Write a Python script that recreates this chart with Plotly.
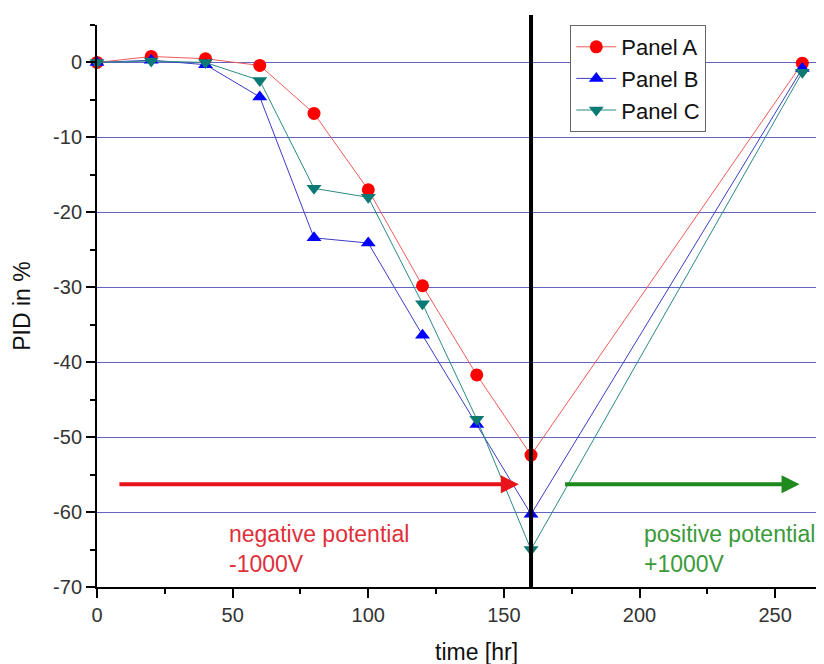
import plotly.graph_objects as go

time_hr = [0, 20, 40, 60, 80, 100, 120, 140, 160, 260]
panel_a = [0, 0.8, 0.5, -0.4, -6.8, -17.0, -29.8, -41.7, -52.4, -0.1]
panel_b = [0, 0.3, -0.3, -4.6, -23.4, -24.1, -36.4, -48.3, -60.3, -0.8]
panel_c = [0, 0.2, 0.0, -2.4, -16.8, -18.0, -32.2, -47.6, -65.0, -1.3]

series_names = ["Panel A", "Panel B", "Panel C"]
line_colors = ["#f05a5a", "#3c3cc8", "#2a8a86"]
marker_colors = ["#ff0000", "#0000ff", "#0c7a74"]
marker_symbols = ["circle", "triangle-up", "triangle-down"]

x_ticks = [0, 50, 100, 150, 200, 250]
y_ticks = [0, -10, -20, -30, -40, -50, -60, -70]
y_tick_text = ["0", "-10", "-20", "-30", "-40", "-50", "-60", "-70"]

switch_time = 160
arrow_y = -56.3
neg_arrow = [7.7, 155.5]
pos_arrow = [172, 259]

fig = go.Figure()
for name, ys, lc, mc, sym in zip(series_names, [panel_a, panel_b, panel_c],
                                 line_colors, marker_colors, marker_symbols):
    fig.add_trace(go.Scatter(
        x=time_hr, y=ys, name=name, mode="lines+markers",
        line=dict(color=lc, width=1),
        marker=dict(color=mc, symbol=sym, size=13),
        cliponaxis=False,
    ))

font_family = "Liberation Sans, Arial, sans-serif"

# page body has an 8px margin: figure is sized/placed to compensate
fig.update_layout(
    width=816, height=656,
    margin=dict(l=89, r=0, t=17, b=77, autoexpand=False),
    paper_bgcolor="white", plot_bgcolor="white",
    font=dict(family=font_family, size=20, color="#333333"),
    showlegend=True,
    legend=dict(
        x=0.651, y=1.0, xanchor="left", yanchor="top",
        bgcolor="white", bordercolor="#666666", borderwidth=1,
        font=dict(size=22, color="#111111"),
        itemwidth=40, tracegroupgap=0,
    ),
    xaxis=dict(
        range=[0, 268], tickvals=x_ticks, ticks="outside", ticklen=9, tickwidth=2,
        tickcolor="black", showline=True, linecolor="black", linewidth=2,
        showgrid=False, zeroline=False,
        minor=dict(dtick=25, tick0=0, ticks="outside", ticklen=5, tickwidth=2, tickcolor="black", showgrid=False),
        tickfont=dict(size=20, color="#333333"),
    ),
    yaxis=dict(
        range=[-70, 5], tickvals=y_ticks, ticktext=y_tick_text, ticks="outside", ticklen=9, tickwidth=2,
        tickcolor="black", showline=True, linecolor="black", linewidth=2,
        showgrid=True, gridcolor="#6464c4", gridwidth=1, zeroline=False,
        minor=dict(dtick=5, tick0=0, ticks="outside", ticklen=5, tickwidth=2, tickcolor="black", showgrid=False),
        tickfont=dict(size=20, color="#333333"),
        title=dict(text="PID in %", font=dict(size=23, color="#111111"), standoff=16),
    ),
)

# vertical switch line
fig.add_shape(type="line", xref="x", yref="paper", x0=switch_time, x1=switch_time,
              y0=0, y1=1.018, line=dict(color="black", width=4))

# arrows
fig.add_annotation(x=neg_arrow[1], y=arrow_y, ax=neg_arrow[0], ay=arrow_y,
                   xref="x", yref="y", axref="x", ayref="y", text="",
                   showarrow=True, arrowhead=2, arrowsize=0.9, arrowwidth=4,
                   arrowcolor="#e8141c")
fig.add_annotation(x=pos_arrow[1], y=arrow_y, ax=pos_arrow[0], ay=arrow_y,
                   xref="x", yref="y", axref="x", ayref="y", text="",
                   showarrow=True, arrowhead=2, arrowsize=0.9, arrowwidth=4,
                   arrowcolor="#1e8a1e")

fig.add_annotation(x=48, y=-60.9, xref="x", yref="y", xanchor="left", yanchor="top",
                   text="negative potential<br>-1000V", showarrow=False, align="left",
                   font=dict(size=23, color="#e0303a"))
fig.add_annotation(x=201, y=-60.9, xref="x", yref="y", xanchor="left", yanchor="top",
                   text="positive potential<br>+1000V", showarrow=False, align="left",
                   font=dict(size=23, color="#3a9a3a"))

fig.add_annotation(x=140, y=-0.115, xref="x", yref="paper", xanchor="center", yanchor="middle",
                   text="time [hr]", showarrow=False, font=dict(size=23, color="#111111"))

fig.write_html("out.html")
